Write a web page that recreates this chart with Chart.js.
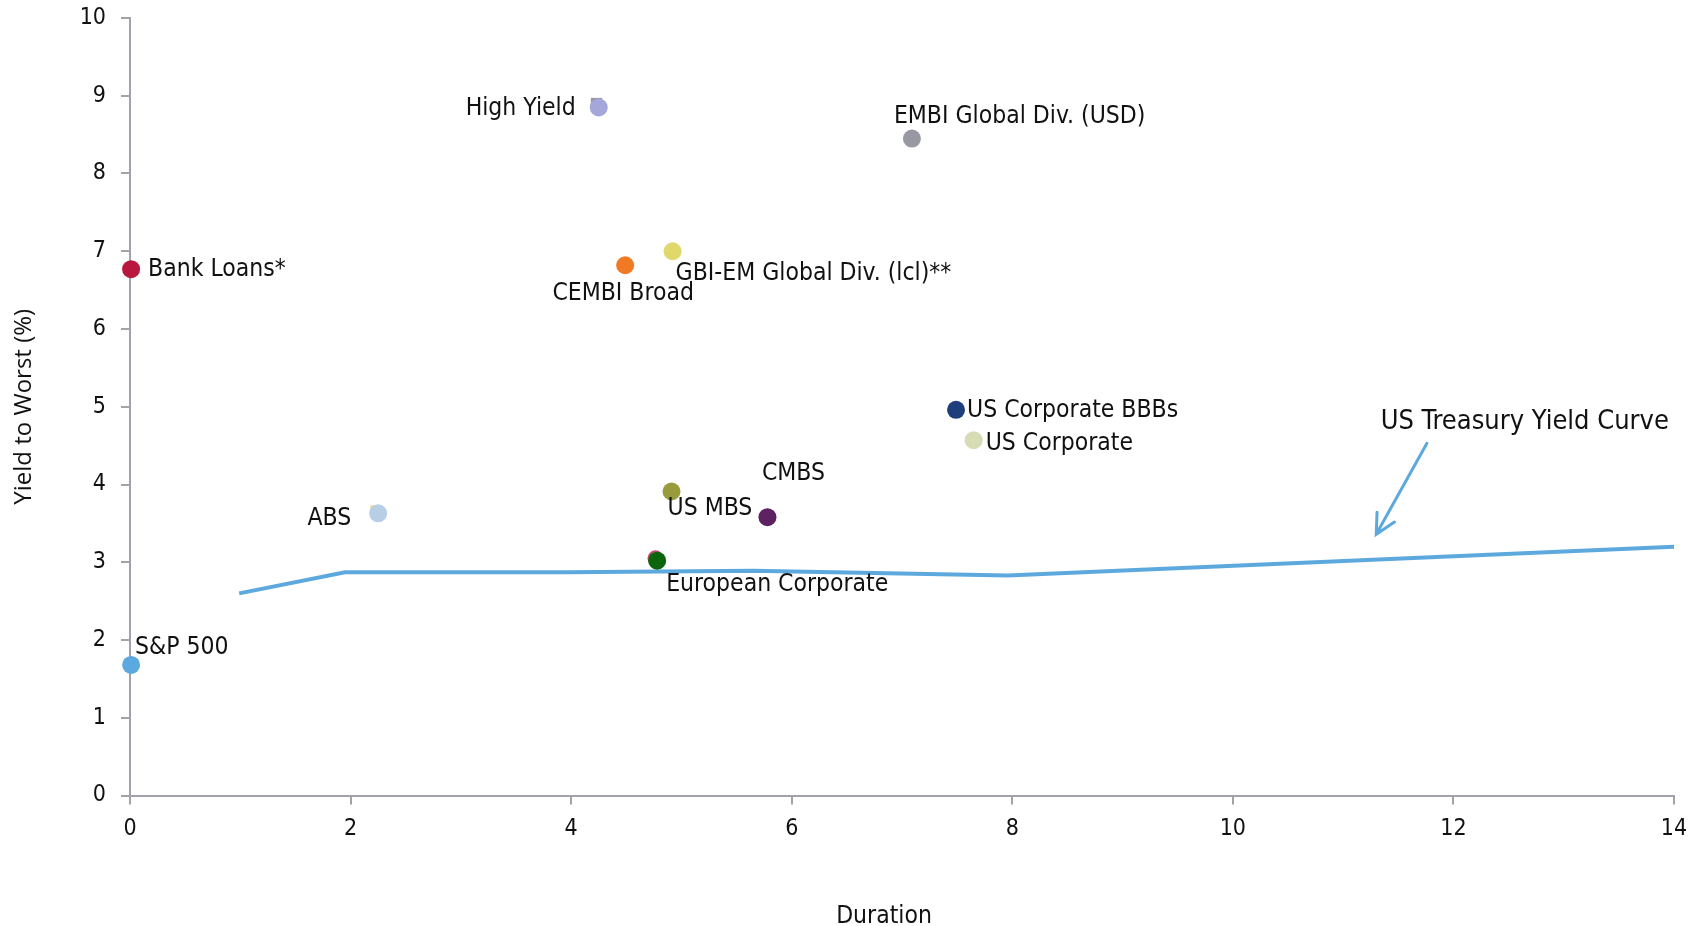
<!DOCTYPE html>
<html>
<head>
<meta charset="utf-8">
<script src="https://cdn.jsdelivr.net/npm/chart.js@4/dist/chart.umd.min.js"></script>
<style>
  html, body { margin: 0; padding: 0; background: #ffffff; }
  #wrap { width: 1697px; height: 926px; }
</style>
</head>
<body>
<div id="wrap"><canvas id="chart" width="1697" height="926"></canvas></div>
<script>
// Asset classes: duration (years) vs. yield to worst (%)
const assetNames = [
  'High Yield', 'EMBI Global Div. (USD)', 'Bank Loans*', 'CEMBI Broad',
  'GBI-EM Global Div. (lcl)**', 'US Corporate BBBs', 'US Corporate', 'US MBS',
  'CMBS', 'ABS', 'European Corporate', 'S&P 500'
];
const assetDuration = [4.25, 7.09, 0.01, 4.49, 4.92, 7.49, 7.65, 4.91, 5.78, 2.25, 4.78, 0.01];
const assetYield    = [8.85, 8.45, 6.77, 6.82, 7.00, 4.96, 4.57, 3.91, 3.58, 3.63, 3.02, 1.68];
const assetColors = [
  '#a5a6d9', '#9898a2', '#b8173f', '#ef7a23', '#e1d86c', '#1f3f7c',
  '#d8dcb5', '#979b3b', '#5c2262', '#b6cfe6', '#0b640e', '#5ba9df'
];

// Overlapped markers peeking out behind some of the assets
const hiddenDuration = [4.23, 2.23, 4.765];
const hiddenYield    = [8.90, 3.66, 3.05];
const hiddenColors   = ['#9a9aa6', '#e6df9a', '#c0506a'];
const hiddenShapes   = ['rect', 'rect', 'circle'];

// US Treasury yield curve (duration, yield)
const curveDuration = [0.99, 1.95, 3.97, 5.65, 7.96, 14];
const curveYield    = [2.60, 2.87, 2.87, 2.89, 2.83, 3.20];
const curveLabel = 'US Treasury Yield Curve';

// Axis ticks and titles
const xTicks = [0, 2, 4, 6, 8, 10, 12, 14];
const yTicks = [0, 1, 2, 3, 4, 5, 6, 7, 8, 9, 10];
const xTitle = 'Duration';
const yTitle = 'Yield to Worst (%)';

// Label placement relative to each marker: [dx, dy, align]
const labelPlacement = [
  [-23, 1, 'right'], [-18, -22, 'left'], [17, 1, 'left'], [-2, 28, 'center'],
  [3, 22, 'left'], [11, 1, 'left'], [12, 3, 'left'], [-4, 17, 'left'],
  [26, -44, 'center'], [-27, 5, 'right'], [9, 24, 'left'], [4, -17, 'left']
];

// Callout for the curve: text anchor and arrow (data coordinates)
const curveTextAt = [11.34, 4.81];
const arrowFrom = [11.76, 4.53];
const arrowTo   = [11.30, 3.36];

const FAMILY = '"DejaVu Sans Condensed", "DejaVu Sans", sans-serif';
const LABEL_FONT = '24.5px ' + FAMILY;
const CALLOUT_FONT = '27px ' + FAMILY;
const AXIS_GREY = '#a2a2aa';
const CURVE_BLUE = '#5da9de';

const pointLabels = {
  id: 'pointLabels',
  afterDatasetsDraw(chart) {
    const ctx = chart.ctx;
    const meta = chart.getDatasetMeta(0);
    const area = chart.chartArea;
    ctx.save();
    ctx.font = LABEL_FONT;
    ctx.fillStyle = '#111111';
    ctx.textBaseline = 'middle';
    meta.data.forEach((pt, i) => {
      const [dx, dy, align] = labelPlacement[i];
      ctx.textAlign = align;
      ctx.fillText(assetNames[i], pt.x + dx, pt.y + dy);
    });

    // x axis title, set slightly left of the plot centre
    ctx.textAlign = 'center';
    ctx.fillText(xTitle, (area.left + area.right) / 2 - 18, chart.height - 9);

    // curve callout
    const xs = chart.scales.x, ys = chart.scales.y;
    ctx.font = CALLOUT_FONT;
    ctx.textAlign = 'left';
    ctx.fillText(curveLabel, xs.getPixelForValue(curveTextAt[0]), ys.getPixelForValue(curveTextAt[1]));

    const x1 = xs.getPixelForValue(arrowFrom[0]), y1 = ys.getPixelForValue(arrowFrom[1]);
    const x2 = xs.getPixelForValue(arrowTo[0]),   y2 = ys.getPixelForValue(arrowTo[1]);
    ctx.strokeStyle = CURVE_BLUE;
    ctx.lineWidth = 3;
    ctx.lineCap = 'round';
    ctx.beginPath();
    ctx.moveTo(x1, y1);
    ctx.lineTo(x2, y2);
    const back = Math.atan2(y1 - y2, x1 - x2);
    const head = 22, spread = 27 * Math.PI / 180;
    ctx.moveTo(x2 + head * Math.cos(back - spread), y2 + head * Math.sin(back - spread));
    ctx.lineTo(x2, y2);
    ctx.lineTo(x2 + head * Math.cos(back + spread), y2 + head * Math.sin(back + spread));
    ctx.stroke();
    ctx.restore();
  }
};

const tickFont = { family: FAMILY, size: 23 };

new Chart(document.getElementById('chart'), {
  type: 'scatter',
  data: {
    datasets: [
      {
        label: 'Assets',
        data: assetDuration.map((d, i) => ({ x: d, y: assetYield[i] })),
        backgroundColor: assetColors,
        borderWidth: 0,
        pointRadius: 9,
        pointHoverRadius: 9,
        clip: false,
        order: 0
      },
      {
        label: curveLabel,
        data: curveDuration.map((d, i) => ({ x: d, y: curveYield[i] })),
        showLine: true,
        borderColor: CURVE_BLUE,
        borderWidth: 4,
        pointRadius: 0,
        tension: 0,
        clip: false,
        order: 1
      },
      {
        label: 'Overlapped',
        data: hiddenDuration.map((d, i) => ({ x: d, y: hiddenYield[i] })),
        backgroundColor: hiddenColors,
        pointStyle: hiddenShapes,
        borderWidth: 0,
        pointRadius: 8,
        clip: false,
        order: 2
      }
    ]
  },
  options: {
    responsive: false,
    animation: false,
    devicePixelRatio: 1,
    layout: { padding: { top: 18, right: 23, left: 0, bottom: 0 } },
    plugins: {
      legend: { display: false },
      tooltip: { enabled: false }
    },
    scales: {
      x: {
        type: 'linear',
        min: 0,
        max: 14,
        afterBuildTicks: (s) => { s.ticks = xTicks.map(v => ({ value: v })); },
        afterFit: (s) => { s.height = 130.5; s.paddingLeft = 0; s.paddingRight = 0; },
        ticks: { font: tickFont, color: '#111111', padding: 11, maxRotation: 0 },
        grid: { display: true, drawOnChartArea: false, drawTicks: true, tickLength: 9, color: AXIS_GREY, lineWidth: 2 },
        border: { display: true, color: AXIS_GREY, width: 2 },
        title: { display: false }
      },
      y: {
        type: 'linear',
        min: 0,
        max: 10,
        afterBuildTicks: (s) => { s.ticks = yTicks.map(v => ({ value: v })); },
        afterFit: (s) => { s.width = 130; s.paddingTop = 0; s.paddingBottom = 0; },
        ticks: { font: tickFont, color: '#111111', padding: 15 },
        grid: { display: true, drawOnChartArea: false, drawTicks: true, tickLength: 9, color: AXIS_GREY, lineWidth: 2 },
        border: { display: true, color: AXIS_GREY, width: 2 },
        title: {
          display: true,
          text: yTitle,
          font: { family: '"Open Sans", sans-serif', size: 24, lineHeight: 1.2 },
          color: '#111111',
          padding: { top: 10, bottom: 0 }
        }
      }
    }
  },
  plugins: [pointLabels]
});
</script>
</body>
</html>
